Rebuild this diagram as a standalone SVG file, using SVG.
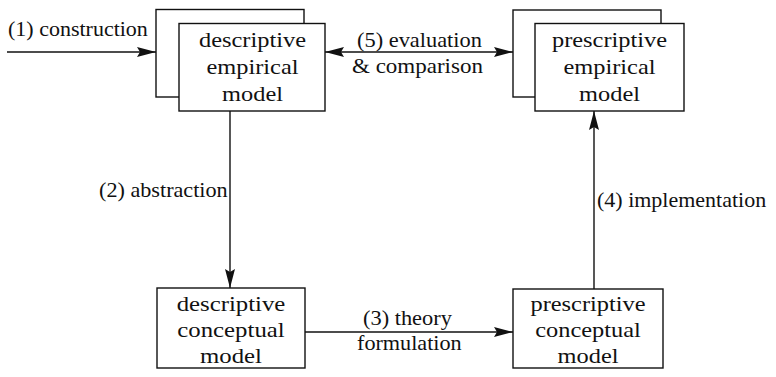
<svg xmlns="http://www.w3.org/2000/svg" width="776" height="377" viewBox="0 0 776 377">
  <style>
    .box { fill: #ffffff; stroke: #111111; stroke-width: 1.4; }
    .edge { fill: none; stroke: #111111; stroke-width: 1.4; }
  </style>
  <defs>
    <marker id="arrow-end" markerUnits="userSpaceOnUse" markerWidth="20" markerHeight="12" viewBox="0 0 20 12" refX="19" refY="6" orient="auto">
      <path d="M0,1 L19,6 L0,11 L3,6 Z" fill="#111111"/>
    </marker>
    <marker id="arrow-start" markerUnits="userSpaceOnUse" markerWidth="20" markerHeight="12" viewBox="0 0 20 12" refX="19" refY="6" orient="auto-start-reverse">
      <path d="M0,1 L19,6 L0,11 L3,6 Z" fill="#111111"/>
    </marker>
  </defs>

  <rect width="776" height="377" fill="#ffffff"/>

  <!-- descriptive empirical model (stacked pair) -->
  <g id="descriptive-empirical">
    <rect class="box" x="156" y="9.5" width="148" height="87.5"/>
    <rect class="box" x="179" y="23.5" width="146" height="87.5"/>
    <text font-family="Liberation Serif" font-size="20" fill="#111111" text-anchor="middle" transform="translate(252.5 47) scale(1.22 1)">descriptive</text>
    <text font-family="Liberation Serif" font-size="20" fill="#111111" text-anchor="middle" transform="translate(252.5 74) scale(1.22 1)">empirical</text>
    <text font-family="Liberation Serif" font-size="20" fill="#111111" text-anchor="middle" transform="translate(252.5 101) scale(1.22 1)">model</text>
  </g>

  <!-- prescriptive empirical model (stacked pair) -->
  <g id="prescriptive-empirical">
    <rect class="box" x="513" y="10" width="148" height="87"/>
    <rect class="box" x="535" y="23.5" width="149" height="87.5"/>
    <text font-family="Liberation Serif" font-size="20" fill="#111111" text-anchor="middle" transform="translate(609.5 47) scale(1.22 1)">prescriptive</text>
    <text font-family="Liberation Serif" font-size="20" fill="#111111" text-anchor="middle" transform="translate(609.5 74) scale(1.22 1)">empirical</text>
    <text font-family="Liberation Serif" font-size="20" fill="#111111" text-anchor="middle" transform="translate(609.5 101) scale(1.22 1)">model</text>
  </g>

  <!-- descriptive conceptual model -->
  <g id="descriptive-conceptual">
    <rect class="box" x="157" y="288" width="148" height="80"/>
    <text font-family="Liberation Serif" font-size="20" fill="#111111" text-anchor="middle" transform="translate(231 311) scale(1.24 1)">descriptive</text>
    <text font-family="Liberation Serif" font-size="20" fill="#111111" text-anchor="middle" transform="translate(231 337) scale(1.24 1)">conceptual</text>
    <text font-family="Liberation Serif" font-size="20" fill="#111111" text-anchor="middle" transform="translate(231 363) scale(1.24 1)">model</text>
  </g>

  <!-- prescriptive conceptual model -->
  <g id="prescriptive-conceptual">
    <rect class="box" x="513" y="289" width="150" height="79"/>
    <text font-family="Liberation Serif" font-size="20" fill="#111111" text-anchor="middle" transform="translate(588 311) scale(1.22 1)">prescriptive</text>
    <text font-family="Liberation Serif" font-size="20" fill="#111111" text-anchor="middle" transform="translate(588 337) scale(1.22 1)">conceptual</text>
    <text font-family="Liberation Serif" font-size="20" fill="#111111" text-anchor="middle" transform="translate(588 363) scale(1.22 1)">model</text>
  </g>

  <!-- connectors -->
  <g id="connectors">
    <!-- (1) construction -->
    <line class="edge" x1="7" y1="52" x2="156" y2="52" marker-end="url(#arrow-end)"/>
    <!-- (5) evaluation & comparison, two-headed -->
    <line class="edge" x1="325" y1="52" x2="513" y2="52" marker-start="url(#arrow-start)" marker-end="url(#arrow-end)"/>
    <!-- (2) abstraction -->
    <line class="edge" x1="230" y1="111" x2="230" y2="288" marker-end="url(#arrow-end)"/>
    <!-- (3) theory formulation -->
    <line class="edge" x1="305" y1="332" x2="513" y2="332" marker-end="url(#arrow-end)"/>
    <!-- (4) implementation -->
    <line class="edge" x1="594" y1="289" x2="594" y2="111" marker-end="url(#arrow-end)"/>
  </g>

  <!-- connector labels -->
  <g id="labels">
    <text font-family="Liberation Serif" font-size="20" fill="#111111" transform="translate(8 36) scale(1.1 1)">(1) construction</text>
    <text font-family="Liberation Serif" font-size="20" fill="#111111" transform="translate(357 47) scale(1.12 1)">(5) evaluation</text>
    <text font-family="Liberation Serif" font-size="20" fill="#111111" transform="translate(352 73) scale(1.15 1)">&amp; comparison</text>
    <text font-family="Liberation Serif" font-size="20" fill="#111111" transform="translate(99 197) scale(1.11 1)">(2) abstraction</text>
    <text font-family="Liberation Serif" font-size="20" fill="#111111" transform="translate(363 325) scale(1.12 1)">(3) theory</text>
    <text font-family="Liberation Serif" font-size="20" fill="#111111" transform="translate(357 350) scale(1.11 1)">formulation</text>
    <text font-family="Liberation Serif" font-size="20" fill="#111111" transform="translate(597 207) scale(1.1 1)">(4) implementation</text>
  </g>
</svg>
